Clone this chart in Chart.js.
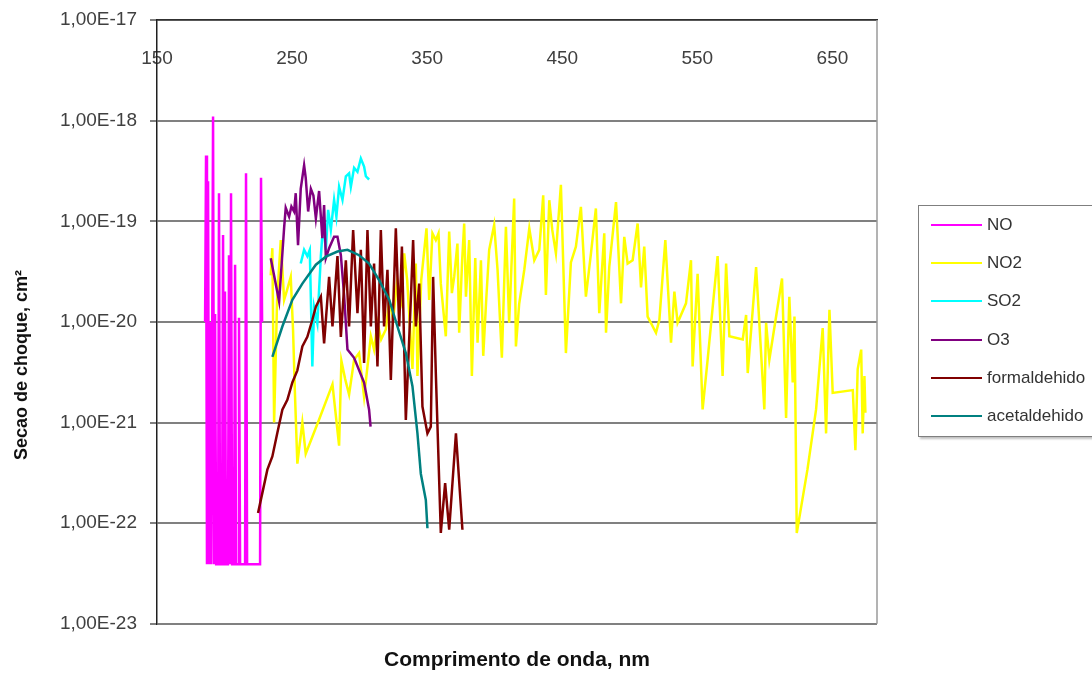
<!DOCTYPE html>
<html>
<head>
<meta charset="utf-8">
<title>Secao de choque</title>
<script src="https://cdn.jsdelivr.net/npm/chart.js@4.4.0/dist/chart.umd.min.js"></script>
<style>
    html, body { margin: 0; padding: 0; background: #fff; overflow: hidden; }
    #wrap { position: relative; width: 1092px; height: 677px; }
    #legend {
        position: absolute; left: 918px; top: 205px; width: 200px; height: 230px;
        border: 1.5px solid #7f7f7f; box-shadow: 2px 2px 2px rgba(0, 0, 0, 0.25);
        background: #fff; font: 17px "Liberation Sans", Arial, sans-serif; color: #333;
    }
    .item { position: absolute; left: 12px; height: 20px; display: flex; align-items: center; white-space: nowrap; }
    .swatch { width: 51px; height: 2px; margin-right: 5px; }
</style>
</head>
<body>
<div id="wrap">
    <canvas id="chart" width="1092" height="677"></canvas>
    <div id="legend"></div>
</div>
<script>
// series names, colours and ticks
const seriesNames = ['NO', 'NO2', 'SO2', 'O3', 'formaldehido', 'acetaldehido'];
const seriesColors = ['#ff00ff', '#ffff00', '#00ffff', '#800080', '#800000', '#008080'];
const xTicks = [150, 250, 350, 450, 550, 650];
const yTicks = [1e-23, 1e-22, 1e-21, 1e-20, 1e-19, 1e-18, 1e-17];

// wavelength (nm) and cross section (cm2)
const noWl = [185.6, 186.3, 187.0, 187.8, 188.5, 189.4, 190.2, 191.5, 192.3, 193.0,
    193.8, 195.2, 195.9, 196.7, 198.1, 198.9, 199.6, 200.3, 201.1, 202.5,
    203.3, 204.0, 204.8, 205.6, 207.0, 207.8, 208.5, 210.0, 210.7, 211.5,
    215.2, 215.9, 216.7, 226.3, 227.0, 227.8];
const noVal = [1.0e-20, 4.5e-19, 3.9e-23, 2.5e-19, 3.9e-23, 1.0e-20, 3.9e-23, 1.1e-18, 3.9e-23, 1.2e-20,
    3.9e-23, 3.9e-23, 1.9e-19, 3.9e-23, 3.9e-23, 7.3e-20, 3.9e-23, 2.0e-20, 3.9e-23, 3.9e-23,
    4.6e-20, 3.9e-23, 1.9e-19, 3.9e-23, 3.9e-23, 3.7e-20, 3.9e-23, 3.9e-23, 1.1e-20, 3.9e-23,
    3.9e-23, 3.0e-19, 3.9e-23, 3.9e-23, 2.7e-19, 1.0e-20];

const no2Wl = [234.2, 235.4, 236.7, 238.9, 241.6, 244.1, 246.3, 249.0, 250.7, 252.2,
    253.9, 257.6, 260.1, 270.0, 279.9, 281.9, 284.8, 286.5, 289.3, 292.2,
    295.9, 299.6, 303.3, 308.3, 310.7, 313.2, 315.9, 319.4, 321.9, 324.8,
    327.8, 330.7, 333.0, 335.2, 339.1, 341.6, 342.8, 345.6, 349.5, 351.5,
    353.9, 356.4, 358.4, 360.1, 363.8, 366.3, 368.3, 370.0, 372.4, 373.7,
    375.9, 377.4, 378.7, 381.1, 383.1, 385.6, 387.3, 389.8, 391.5, 393.7,
    395.9, 399.6, 402.1, 405.3, 408.3, 410.7, 414.4, 415.7, 418.1, 421.9,
    425.6, 429.3, 433.0, 435.9, 437.9, 440.4, 442.6, 445.3, 449.0, 452.7,
    456.4, 460.1, 463.8, 467.5, 471.3, 474.9, 477.4, 481.1, 482.4, 484.8,
    489.8, 493.5, 495.9, 498.4, 502.1, 505.8, 508.3, 510.7, 513.2, 519.4,
    521.9, 526.3, 530.5, 533.0, 535.4, 541.6, 545.3, 546.5, 550.2, 553.9,
    557.6, 565.0, 568.7, 571.3, 573.7, 583.6, 586.1, 587.3, 593.5, 599.6,
    600.9, 603.3, 612.7, 615.7, 618.1, 620.6, 621.9, 623.6, 631.5, 637.9,
    642.8, 645.3, 647.8, 650.2, 665.1, 667.0, 668.7, 671.3, 672.4, 673.7,
    674.4];
const no2Val = [2.9e-20, 5.4e-20, 1.0e-21, 1.65e-20, 6.5e-20, 1.65e-20, 2.08e-20, 2.8e-20, 8.4e-21, 1.8e-21,
    3.9e-22, 1.0e-21, 4.9e-22, 1.07e-21, 2.4e-21, 1.35e-21, 5.9e-22, 4.1e-21, 2.7e-21, 1.9e-21,
    4.2e-21, 4.9e-21, 1.8e-21, 7.2e-21, 5.3e-21, 9.8e-21, 6.7e-21, 8.4e-21, 1.65e-20, 1.05e-20,
    2.6e-20, 1.65e-20, 4.8e-20, 2.6e-20, 3.4e-21, 3.8e-20, 2.9e-21, 2.6e-20, 8.5e-20, 1.65e-20,
    7.6e-20, 6.5e-20, 7.6e-20, 2.4e-20, 7.2e-21, 7.9e-20, 1.93e-20, 2.8e-20, 6.0e-20, 7.8e-21,
    4.1e-20, 9.5e-20, 1.78e-20, 6.5e-20, 2.9e-21, 4.3e-20, 6.2e-21, 4.1e-20, 4.6e-21, 1.65e-20,
    5.2e-20, 9.2e-20, 3.3e-20, 4.4e-21, 8.8e-20, 9.8e-21, 1.68e-19, 5.7e-21, 1.5e-20, 3.3e-20,
    8.5e-20, 4.1e-20, 5.2e-20, 1.81e-19, 1.85e-20, 1.62e-19, 8.2e-20, 4.8e-20, 2.3e-19, 4.9e-21,
    3.9e-20, 5.6e-20, 1.39e-19, 1.78e-20, 4.85e-20, 1.34e-19, 1.22e-20, 7.6e-20, 7.8e-21, 3.5e-20,
    1.55e-19, 1.53e-20, 7.0e-20, 3.8e-20, 4.1e-20, 9.5e-20, 2.2e-20, 5.6e-20, 1.13e-20, 7.8e-21,
    1.05e-20, 6.5e-20, 6.2e-21, 2.0e-20, 9.8e-21, 1.53e-20, 4.1e-20, 3.6e-21, 3.0e-20, 1.35e-21,
    4.2e-21, 4.5e-20, 2.9e-21, 3.8e-20, 7.2e-21, 6.7e-21, 1.17e-20, 3.1e-21, 3.5e-20, 1.35e-21,
    9.8e-21, 4.2e-21, 2.7e-20, 1.11e-21, 1.78e-20, 2.5e-21, 1.13e-20, 8.0e-23, 3.4e-22, 1.35e-21,
    8.7e-21, 7.8e-22, 1.32e-20, 1.97e-21, 2.1e-21, 5.3e-22, 3.4e-21, 5.3e-21, 7.8e-22, 2.9e-21,
    1.25e-21];

const so2Wl = [256.4, 258.9, 261.3, 263.1, 265.0, 266.3, 268.7, 271.3, 273.0, 275.0,
    276.7, 278.7, 281.1, 282.8, 284.8, 287.3, 289.8, 292.2, 293.5, 295.9,
    298.4, 300.9, 303.3, 304.6, 307.0];
const so2Val = [3.8e-20, 5.2e-20, 4.5e-20, 5.2e-20, 3.6e-21, 1.4e-20, 9.7e-21, 4.5e-20, 9.5e-20, 5.2e-20,
    1.3e-19, 8.2e-20, 1.63e-19, 1.11e-19, 2.2e-19, 1.63e-19, 2.8e-19, 3.0e-19, 2.2e-19, 3.4e-19,
    3.1e-19, 4.2e-19, 3.5e-19, 2.8e-19, 2.6e-19];

const o3Wl = [234.2, 240.4, 244.1, 245.3, 247.8, 249.5, 251.5, 252.7, 254.4, 256.4,
    258.9, 260.1, 261.9, 263.9, 265.8, 267.6, 270.0, 272.4, 273.7, 275.0,
    277.4, 281.1, 283.6, 286.1, 288.5, 291.0, 295.9, 303.3, 307.0, 308.1];
const o3Val = [4.3e-20, 1.6e-20, 8.6e-20, 1.36e-19, 1.11e-19, 1.4e-19, 1.25e-19, 1.9e-19, 5.8e-20, 2.1e-19,
    3.6e-19, 2.7e-19, 1.25e-19, 2.1e-19, 1.8e-19, 1.07e-19, 2.0e-19, 6.8e-20, 1.45e-19, 4.3e-20,
    5.4e-20, 7.0e-20, 7.0e-20, 4.6e-20, 1.85e-20, 5.3e-21, 4.4e-21, 2.5e-21, 1.34e-21, 9.1e-22];

const formWl = [224.8, 228.0, 231.7, 235.4, 239.1, 242.8, 246.5, 250.2, 253.9, 257.6,
    261.3, 265.0, 267.6, 271.3, 273.7, 277.4, 279.9, 283.6, 286.1, 289.8,
    292.2, 295.2, 298.4, 300.9, 303.3, 305.8, 308.3, 310.7, 313.2, 315.7,
    318.1, 320.6, 323.1, 326.8, 329.3, 331.3, 334.2, 337.9, 339.6, 341.6,
    344.1, 346.5, 350.2, 352.7, 354.4, 356.4, 360.1, 363.3, 366.3, 371.3,
    376.1];
const formVal = [1.26e-22, 2.0e-22, 3.4e-22, 4.6e-22, 7.9e-22, 1.34e-21, 1.68e-21, 2.5e-21, 3.3e-21, 5.7e-21,
    7.1e-21, 1.05e-20, 1.42e-20, 1.78e-20, 6.1e-21, 2.8e-20, 9.0e-21, 4.5e-20, 7.1e-21, 4.1e-20,
    9.0e-21, 8.2e-20, 1.22e-20, 5.2e-20, 3.9e-21, 8.2e-20, 9.0e-21, 3.8e-20, 3.6e-21, 8.2e-20,
    9.0e-21, 3.3e-20, 2.65e-21, 8.5e-20, 9.0e-21, 5.6e-20, 1.06e-21, 1.66e-20, 6.5e-20, 9.0e-21,
    2.4e-20, 1.44e-21, 7.8e-22, 9.1e-22, 2.8e-20, 3.1e-21, 8.0e-23, 2.5e-22, 8.6e-23, 7.8e-22,
    8.6e-23];

const acetWl = [235.4, 242.8, 250.2, 257.6, 267.6, 275.0, 283.6, 291.0, 299.6, 307.0,
    314.4, 321.9, 328.0, 334.2, 339.1, 342.8, 345.3, 349.0, 350.2];
const acetVal = [4.5e-21, 9.0e-21, 1.66e-20, 2.4e-20, 3.7e-20, 4.45e-20, 5.0e-20, 5.2e-20, 4.6e-20, 3.8e-20,
    2.6e-20, 1.66e-20, 9.0e-21, 4.9e-21, 2.3e-21, 7.8e-22, 3.1e-22, 1.7e-22, 8.9e-23];

const series = [
    [noWl, noVal], [no2Wl, no2Val], [so2Wl, so2Val],
    [o3Wl, o3Val], [formWl, formVal], [acetWl, acetVal]
];

Chart.defaults.font.family = "'Liberation Sans', Arial, sans-serif";

// right edge of the plot frame and the rotated y title
const frame = {
    id: 'frame',
    afterDraw(chart) {
        const { ctx, chartArea } = chart;
        ctx.save();
        ctx.strokeStyle = '#9a9a9a';
        ctx.lineWidth = 1.5;
        ctx.beginPath();
        ctx.moveTo(chartArea.right, chartArea.top);
        ctx.lineTo(chartArea.right, chartArea.bottom);
        ctx.stroke();
        ctx.translate(22, 365);
        ctx.rotate(-Math.PI / 2);
        ctx.font = "bold 18px 'Liberation Sans', Arial, sans-serif";
        ctx.fillStyle = '#111';
        ctx.textAlign = 'center';
        ctx.textBaseline = 'middle';
        ctx.fillText('Secao de choque, cm²', 0, 0);
        ctx.restore();
    }
};

const chart = new Chart(document.getElementById('chart'), {
    type: 'line',
    data: {
        datasets: series.map(([wl, val], i) => ({
            label: seriesNames[i],
            data: wl.map((x, j) => ({ x: x, y: val[j] })),
            borderColor: seriesColors[i],
            backgroundColor: seriesColors[i],
            borderWidth: 2.5,
            pointRadius: 0,
            tension: 0,
            fill: false,
            order: series.length - i
        }))
    },
    options: {
        responsive: false,
        animation: false,
        devicePixelRatio: 1,
        layout: { padding: { left: 0, right: 215, top: 0, bottom: 0 } },
        plugins: {
            legend: { display: false },
            tooltip: { enabled: false },
            title: {
                display: true,
                position: 'bottom',
                fullSize: false,
                text: 'Comprimento de onda, nm',
                color: '#111',
                font: { size: 21, weight: 'bold' },
                padding: { top: 24, bottom: 4 }
            }
        },
        scales: {
            x: {
                type: 'linear',
                position: 'top',
                min: 150,
                max: 683,
                afterBuildTicks: axis => { axis.ticks = xTicks.map(v => ({ value: v })); },
                afterFit: axis => {
                    axis.height = 20;
                    axis.paddingLeft = 0;
                    axis.paddingRight = 0;
                },
                grid: { display: false },
                border: { display: true, color: '#303030', width: 1.5 },
                ticks: {
                    mirror: true,
                    padding: 27,
                    maxRotation: 0,
                    autoSkip: false,
                    color: '#404040',
                    font: { size: 19 },
                    callback: v => String(v)
                }
            },
            y: {
                type: 'logarithmic',
                min: 1e-23,
                max: 1e-17,
                afterBuildTicks: axis => { axis.ticks = yTicks.map(v => ({ value: v })); },
                afterFit: axis => {
                    axis.width = 157;
                    axis.paddingTop = 0;
                    axis.paddingBottom = 0;
                },
                grid: { color: '#808080', lineWidth: 2, tickLength: 7 },
                border: { color: '#202020', width: 1.5 },
                ticks: {
                    padding: 13,
                    color: '#404040',
                    font: { size: 19 },
                    callback: v => '1,00E' + Math.round(Math.log10(v))
                }
            }
        }
    },
    plugins: [frame]
});

// html legend, built from the chart's own legend items
const legendBox = document.getElementById('legend');
Chart.defaults.plugins.legend.labels.generateLabels(chart)
    .sort((a, b) => a.datasetIndex - b.datasetIndex)
    .forEach((item, i) => {
        const row = document.createElement('div');
        row.className = 'item';
        row.style.top = (9 + i * 38.2) + 'px';
        const sw = document.createElement('span');
        sw.className = 'swatch';
        sw.style.background = item.strokeStyle;
        const txt = document.createElement('span');
        txt.textContent = item.text;
        row.appendChild(sw);
        row.appendChild(txt);
        legendBox.appendChild(row);
    });
</script>
</body>
</html>
